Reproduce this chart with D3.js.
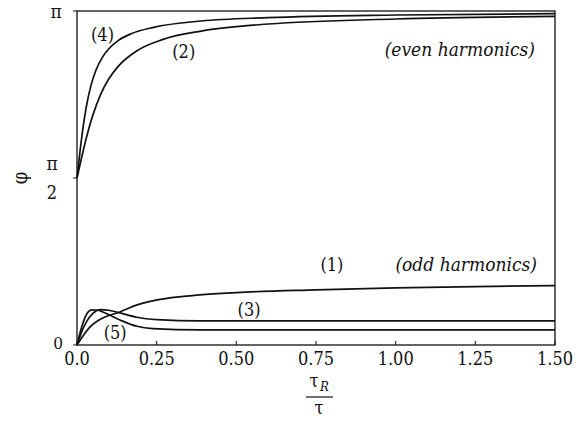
<!DOCTYPE html>
<html>
<head>
<meta charset="utf-8">
<script src="https://cdn.jsdelivr.net/npm/d3@7"></script>
<style>
  body { margin: 0; background: #fff; }
  text { font-family: "DejaVu Serif Condensed", "DejaVu Serif"; fill: #111; }
</style>
</head>
<body>
<svg width="578" height="421"></svg>
<script>
const width = 578;
const height = 421;

// phase values are given as fractions of pi
const tau4 = [0, 0.01, 0.02, 0.03, 0.045, 0.06, 0.08, 0.1, 0.13, 0.17, 0.24, 0.39, 0.6, 1.0, 1.5];
const phi4 = [0.5, 0.584, 0.658, 0.717, 0.781, 0.824, 0.862, 0.887, 0.912, 0.932, 0.951, 0.970, 0.980, 0.988, 0.992];

const tau2 = [0, 0.0125, 0.03, 0.05, 0.075, 0.1, 0.13, 0.19, 0.27, 0.39, 0.6, 1.0, 1.5];
const phi2 = [0.5, 0.553, 0.623, 0.689, 0.752, 0.797, 0.835, 0.882, 0.915, 0.940, 0.961, 0.976, 0.984];

const tau1 = [0, 0.041, 0.081, 0.135, 0.188, 0.251, 0.385, 0.5, 0.75, 1.0, 1.25, 1.5];
const phi1 = [0, 0.054, 0.081, 0.099, 0.120, 0.135, 0.150, 0.157, 0.165, 0.171, 0.175, 0.178];

const tau3 = [0, 0.015, 0.03, 0.05, 0.075, 0.1, 0.135, 0.188, 0.251, 0.385, 0.75, 1.5];
const phi3 = [0, 0.04, 0.07, 0.095, 0.106, 0.104, 0.096, 0.083, 0.076, 0.072, 0.072, 0.072];

const tau5 = [0, 0.012, 0.025, 0.046, 0.065, 0.081, 0.135, 0.188, 0.238, 0.385, 1.5];
const phi5 = [0, 0.045, 0.082, 0.105, 0.104, 0.099, 0.075, 0.056, 0.049, 0.045, 0.045];

const xTicks = [0, 0.25, 0.5, 0.75, 1.0, 1.25, 1.5];
const xTickLabels = ['0.0', '0.25', '0.50', '0.75', '1.00', '1.25', '1.50'];

const curveLabels = [
  {text: '(4)', t: 0.08, p: 0.93},
  {text: '(2)', t: 0.335, p: 0.88},
  {text: '(1)', t: 0.8, p: 0.24},
  {text: '(3)', t: 0.54, p: 0.105},
  {text: '(5)', t: 0.12, p: 0.036}
];

const x = d3.scaleLinear().domain([0, 1.5]).range([77, 555]);
const y = d3.scaleLinear().domain([0, Math.PI]).range([345, 11]);

const svg = d3.select('svg');

// frame
svg.append('rect')
    .attr('x', x(0)).attr('y', y(Math.PI))
    .attr('width', x(1.5) - x(0)).attr('height', y(0) - y(Math.PI))
    .attr('fill', 'none').attr('stroke', '#111').attr('stroke-width', 1.3);

// x ticks
svg.selectAll('.xtick')
  .data(xTicks)
  .enter().append('line')
    .attr('x1', d => x(d)).attr('x2', d => x(d))
    .attr('y1', y(0)).attr('y2', y(0) - 4)
    .attr('stroke', '#111');

svg.selectAll('.xlab')
  .data(xTicks)
  .enter().append('text')
    .attr('x', d => x(d))
    .attr('y', 365)
    .attr('text-anchor', 'middle')
    .attr('font-size', 18)
    .text((d, i) => xTickLabels[i]);

// y ticks
[0, Math.PI / 2, Math.PI].forEach(v => {
  svg.append('line')
    .attr('x1', x(0) - 4).attr('x2', x(0))
    .attr('y1', y(v)).attr('y2', y(v))
    .attr('stroke', '#111');
});

svg.append('text').attr('x', 63).attr('y', y(0) + 4)
  .attr('text-anchor', 'end').attr('font-size', 17).text('0');
svg.append('text').attr('x', 56).attr('y', y(Math.PI) + 7)
  .attr('text-anchor', 'middle').attr('font-size', 19).text('π');
svg.append('text').attr('x', 52).attr('y', 170)
  .attr('text-anchor', 'middle').attr('font-size', 19).text('π');
svg.append('text').attr('x', 52).attr('y', 199)
  .attr('text-anchor', 'middle').attr('font-size', 18).text('2');

// axis titles
svg.append('text')
  .attr('transform', 'translate(20,178) rotate(-90)')
  .attr('text-anchor', 'middle').attr('dominant-baseline', 'central')
  .attr('font-size', 20).text('φ');

svg.append('text').attr('x', 314).attr('y', 387)
  .attr('text-anchor', 'middle').attr('font-size', 18).text('τ');
svg.append('text').attr('x', 320).attr('y', 391)
  .attr('font-size', 13).attr('font-style', 'italic').text('R');
svg.append('line')
  .attr('x1', 306).attr('x2', 333).attr('y1', 397).attr('y2', 397)
  .attr('stroke', '#111').attr('stroke-width', 1.2);
svg.append('text').attr('x', 319).attr('y', 414)
  .attr('text-anchor', 'middle').attr('font-size', 18).text('τ');

// curves
const series = [[tau4, phi4], [tau2, phi2], [tau1, phi1], [tau3, phi3], [tau5, phi5]];
const line = d3.line()
  .x(d => x(d[0]))
  .y(d => y(d[1] * Math.PI))
  .curve(d3.curveMonotoneX);

svg.selectAll('.curve')
  .data(series.map(([t, p]) => t.map((v, i) => [v, p[i]])))
  .enter().append('path')
    .attr('d', line)
    .attr('fill', 'none')
    .attr('stroke', '#111')
    .attr('stroke-width', 1.7);

svg.selectAll('.clab')
  .data(curveLabels)
  .enter().append('text')
    .attr('x', d => x(d.t))
    .attr('y', d => y(d.p * Math.PI))
    .attr('text-anchor', 'middle')
    .attr('dominant-baseline', 'central')
    .attr('font-size', 18)
    .text(d => d.text);

svg.append('text').attr('x', 535).attr('y', 56)
  .attr('text-anchor', 'end').attr('font-size', 19).attr('font-style', 'italic')
  .text('(even harmonics)');
svg.append('text').attr('x', 537).attr('y', 271)
  .attr('text-anchor', 'end').attr('font-size', 19).attr('font-style', 'italic')
  .text('(odd harmonics)');
</script>
</body>
</html>
